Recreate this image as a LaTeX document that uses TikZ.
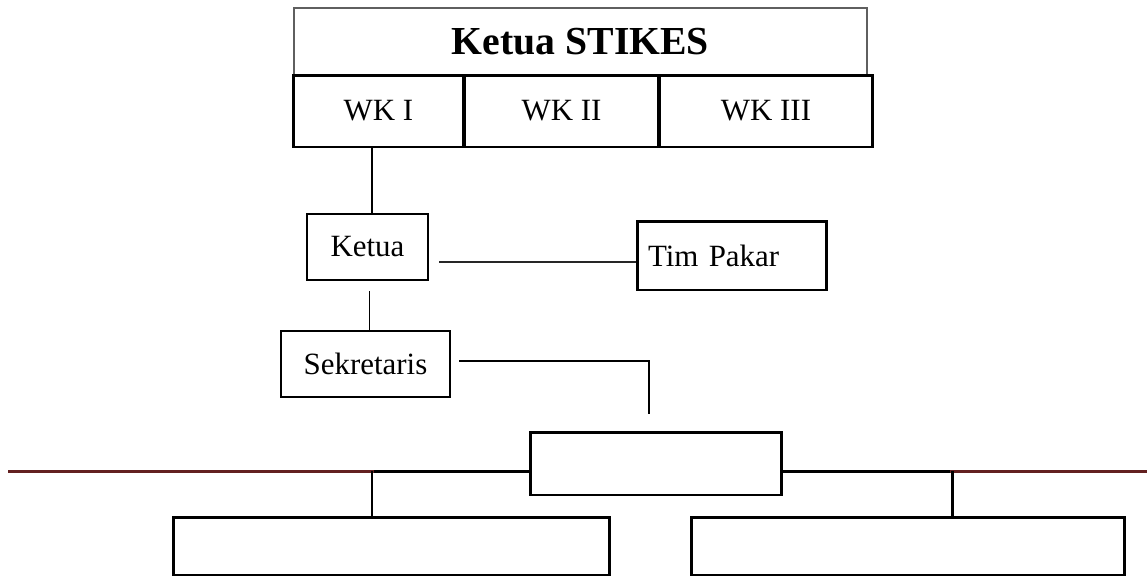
\documentclass[tikz,border=0pt]{standalone}
\usepackage{fontspec}
\setmainfont{Liberation Serif}
\usetikzlibrary{calc}
\definecolor{garis}{RGB}{99,32,32}
\definecolor{tepi}{RGB}{95,95,95}
\tikzset{kotak/.style={draw,line width=1.7pt,inner sep=0pt,font=\fontsize{17.6pt}{20pt}\selectfont},
 tipis/.style={kotak,line width=1.15pt},
 judul/.style={draw=tepi,line width=0.75pt,inner sep=0pt,font=\fontsize{22.6pt}{26pt}\selectfont\bfseries},
 tebal/.style={line width=1.7pt},sedang/.style={line width=1.1pt,draw=black!85},
 halus/.style={line width=0.8pt},merah/.style={tebal,draw=garis}}
\begin{document}
\begin{tikzpicture}[x=0.02cm,y=-0.02cm]
\useasboundingbox (0,0) rectangle (1147,576);
\node[judul,minimum width=11.46cm,minimum height=1.34cm] (stikes) at (580.5,41.5) {Ketua STIKES};
\node[kotak,minimum width=3.42cm,minimum height=1.44cm] (wk1) at (378.5,111) {WK I};
\node[kotak,minimum width=3.9cm,minimum height=1.44cm] (wk2) at (561.5,111) {WK II};
\node[kotak,minimum width=4.28cm,minimum height=1.44cm] (wk3) at (766,111) {WK III};
\node[tipis,minimum width=2.42cm,minimum height=1.32cm] (ketua) at (367.5,247) {Ketua};
\node[kotak,minimum width=3.8cm,minimum height=1.38cm,text width=3.36cm,inner xsep=0.22cm,align=left] (pakar) at (732,255.5) {Tim Pakar};
\node[tipis,line width=1.4pt,minimum width=3.38cm,minimum height=1.32cm] (sekre) at (365.5,364) {Sekretaris};
\node[kotak,minimum width=5.04cm,minimum height=1.26cm] (unit) at (656,463.5) {};
\node[kotak,minimum width=8.74cm,minimum height=1.16cm] (anggotaL) at (391.5,546) {};
\node[kotak,minimum width=8.68cm,minimum height=1.16cm] (anggotaR) at (908,546) {};
% garis penghubung
\coordinate (wa) at ([shift={(4.5,0)}]ketua.north);
\draw[tebal] (wa) -- (wa |- wk1.south);
\coordinate (kt) at ([shift={(10,15)}]ketua.east);
\draw[sedang] (kt) -- (kt -| pakar.west);
\coordinate (ks) at ([shift={(2,10)}]ketua.south);
\draw[halus] (ks) -- (ks |- sekre.north);
\coordinate (sk) at ([shift={(8,-3)}]sekre.east);\coordinate (su) at ([shift={(-7,-17)}]unit.north);
\draw[halus] (sk) -| (su);
% garis bawah
\coordinate (ujungL) at (8,471);\coordinate (ujungR) at (1147,471);
\coordinate (tL) at (374,471);\coordinate (tR) at (950,471);
\draw[merah] (ujungL) -- (tL);\draw[merah] (tR) -- (ujungR);
\draw[tebal] (tL) -- (tL -| unit.west);\draw[tebal] (unit.east |- tR) -- (tR);
\draw[tebal] ([xshift=-0.04cm]tL) -- ([xshift=-0.04cm]tL |- anggotaL.north);
\draw[tebal] ([xshift=0.04cm]tR) -- ([xshift=0.04cm]tR |- anggotaR.north);
\end{tikzpicture}
\end{document}
